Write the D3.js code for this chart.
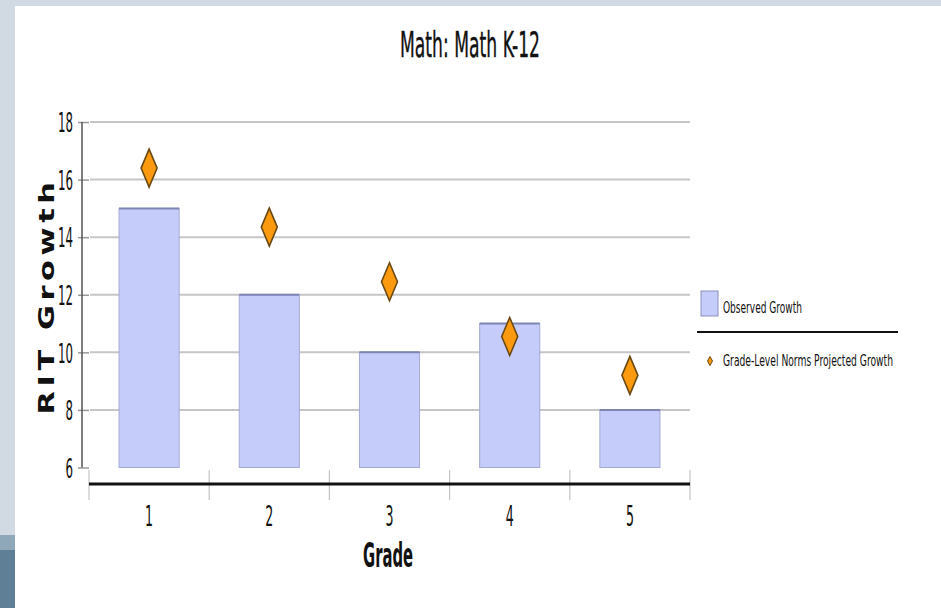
<!DOCTYPE html>
<html>
<head>
<meta charset="utf-8">
<script src="https://cdn.jsdelivr.net/npm/d3@7"></script>
<style>
  html, body { margin: 0; padding: 0; background: #ffffff; }
  svg { display: block; }
  text { font-family: "DejaVu Sans Condensed", "DejaVu Sans", sans-serif; fill: #111; }
</style>
</head>
<body>
<svg id="chart" width="941" height="608"></svg>
<script>
// ---- data ----
const grades = ["1", "2", "3", "4", "5"];
const observedGrowth = [15, 12, 10, 11, 8];
const projectedGrowth = [16.4, 14.35, 12.45, 10.55, 9.2];
const yTicks = [6, 8, 10, 12, 14, 16, 18];
const titleText = "Math: Math K-12";
const xTitle = "Grade";
const yTitle = "RIT Growth";
const legendLabels = ["Observed Growth", "Grade-Level Norms Projected Growth"];

const svg = d3.select("#chart");
const W = 941, H = 608;

// ---- page background (slide frame) ----
svg.append("rect").attr("x", 0).attr("y", 0).attr("width", W).attr("height", H).attr("fill", "#d1dae2");
svg.append("rect").attr("x", 15).attr("y", 6).attr("width", W - 15).attr("height", H - 6).attr("fill", "#ffffff");
svg.append("rect").attr("x", 0).attr("y", 535).attr("width", 15).attr("height", 15).attr("fill", "#8fa8b9");
svg.append("rect").attr("x", 0).attr("y", 550).attr("width", 15).attr("height", 58).attr("fill", "#5f7f97");

// ---- scales ----
const x = d3.scaleBand().domain(grades).range([89, 690]).paddingInner(0).paddingOuter(0);
const y = d3.scaleLinear().domain([6, 18]).range([467.5, 122]);
const barW = x.bandwidth() * 0.5;

// ---- gridlines ----
svg.append("g").selectAll("line").data(yTicks.filter(d => d > 6)).join("line")
  .attr("x1", 90).attr("x2", 690)
  .attr("y1", d => y(d)).attr("y2", d => y(d))
  .attr("stroke", "#c6c6c6").attr("stroke-width", 2);

// ---- y axis ----
const yAxis = d3.axisLeft(y).tickValues(yTicks).tickSize(0).tickPadding(0).tickFormat(d3.format("d"));
const gy = svg.append("g").attr("transform", "translate(82,0)").call(yAxis);
gy.select(".domain").remove();
gy.append("line").attr("x1", 0).attr("x2", 0).attr("y1", y(18)).attr("y2", y(6)).attr("stroke", "#555").attr("stroke-width", 1.5);
gy.selectAll(".tick line").remove();
gy.selectAll(".tick").append("line").attr("x1", -4).attr("x2", 7).attr("stroke", "#999").attr("stroke-width", 1.5);
gy.selectAll(".tick text")
  .attr("x", -9).attr("dy", "0.36em")
  .attr("font-size", 27).attr("fill", "#111")
  .attr("font-family", "'DejaVu Sans Condensed', sans-serif")
  .attr("textLength", d => String(d).length * 7.5)
  .attr("lengthAdjust", "spacingAndGlyphs");

// ---- bars ----
svg.append("g").selectAll("rect").data(grades).join("rect")
  .attr("x", d => x(d) + (x.bandwidth() - barW) / 2)
  .attr("width", barW)
  .attr("y", (d, i) => y(observedGrowth[i]))
  .attr("height", (d, i) => y(6) - y(observedGrowth[i]))
  .attr("fill", "#c6ccfa").attr("stroke", "#a3a9d6").attr("stroke-width", 1);
svg.append("g").selectAll("line").data(grades).join("line")
  .attr("x1", d => x(d) + (x.bandwidth() - barW) / 2)
  .attr("x2", d => x(d) + (x.bandwidth() + barW) / 2)
  .attr("y1", (d, i) => y(observedGrowth[i]))
  .attr("y2", (d, i) => y(observedGrowth[i]))
  .attr("stroke", "#7d85b3").attr("stroke-width", 2);

// ---- x axis ----
const xAxis = d3.axisBottom(x).tickSize(0).tickPadding(0);
const gx = svg.append("g").attr("transform", "translate(0,484)").call(xAxis);
gx.select(".domain").remove();
gx.selectAll(".tick line").remove();
// category boundary ticks
const boundaries = grades.map(d => x(d)).concat([x.range()[1]]);
gx.append("g").selectAll("line").data(boundaries).join("line")
  .attr("x1", d => d).attr("x2", d => d)
  .attr("y1", -14).attr("y2", 16)
  .attr("stroke", "#c4c4c4").attr("stroke-width", 1.2);
gx.append("line").attr("x1", 89).attr("x2", 690).attr("y1", 0).attr("y2", 0)
  .attr("stroke", "#111").attr("stroke-width", 3);
gx.selectAll(".tick text")
  .attr("y", 42).attr("dy", 0)
  .attr("font-size", 28).attr("fill", "#111")
  .attr("font-family", "'DejaVu Sans Condensed', sans-serif")
  .attr("textLength", 8).attr("lengthAdjust", "spacingAndGlyphs");

// ---- diamonds ----
const diamond = (w, h) => `M0,${-h / 2}L${w / 2},0L0,${h / 2}L${-w / 2},0Z`;
svg.append("g").selectAll("path").data(grades).join("path")
  .attr("transform", (d, i) => `translate(${x(d) + x.bandwidth() / 2},${y(projectedGrowth[i])})`)
  .attr("d", diamond(16, 38))
  .attr("fill", "#fb9a0e").attr("stroke", "#6a4a14").attr("stroke-width", 1.6);

// ---- titles ----
svg.append("text").attr("x", 470).attr("y", 57).attr("text-anchor", "middle")
  .attr("font-size", 36).attr("textLength", 140).attr("lengthAdjust", "spacingAndGlyphs")
  .attr("stroke", "#111").attr("stroke-width", 0.4)
  .text(titleText);
svg.append("text").attr("x", 388).attr("y", 567).attr("text-anchor", "middle")
  .attr("font-size", 33).attr("font-weight", "bold")
  .attr("textLength", 50).attr("lengthAdjust", "spacingAndGlyphs")
  .text(xTitle);
svg.append("text").attr("transform", "translate(54,296) rotate(-90)").attr("text-anchor", "middle")
  .attr("font-family", "'DejaVu Sans', Verdana, sans-serif")
  .attr("font-size", 22).attr("font-weight", "bold").attr("letter-spacing", 3)
  .attr("textLength", 237).attr("lengthAdjust", "spacingAndGlyphs")
  .text(yTitle);

// ---- legend ----
const lg = svg.append("g");
lg.append("rect").attr("x", 701).attr("y", 291).attr("width", 17).attr("height", 25)
  .attr("fill", "#c6ccfa").attr("stroke", "#8a90bd").attr("stroke-width", 1);
lg.append("text").attr("transform", "translate(723,313) scale(1,1.45)").attr("font-size", 11.5)
  .attr("textLength", 79).attr("lengthAdjust", "spacingAndGlyphs").text(legendLabels[0]);
lg.append("line").attr("x1", 697).attr("x2", 898).attr("y1", 332).attr("y2", 332)
  .attr("stroke", "#111").attr("stroke-width", 2);
lg.append("path").attr("transform", "translate(710,361)").attr("d", diamond(5, 9))
  .attr("fill", "#fb9a0e").attr("stroke", "#6a4a14").attr("stroke-width", 1);
lg.append("text").attr("transform", "translate(723,366) scale(1,1.45)").attr("font-size", 11.5)
  .attr("textLength", 170).attr("lengthAdjust", "spacingAndGlyphs").text(legendLabels[1]);
</script>
</body>
</html>
